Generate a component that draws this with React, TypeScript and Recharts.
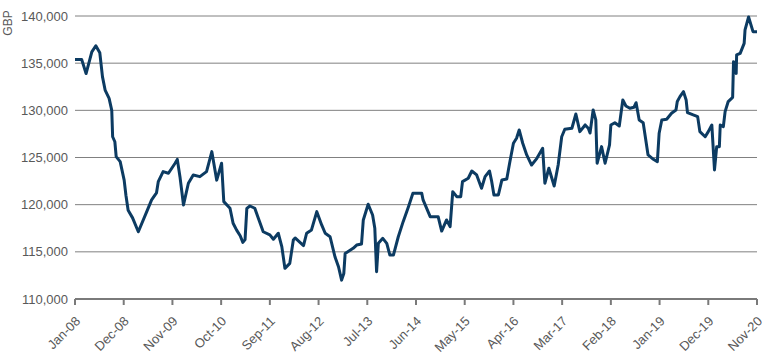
import React from 'react';
import { LineChart, Line, XAxis, YAxis, CartesianGrid } from 'recharts';

// months since Jan-2008 (fractional) for each observation
const monthOffsets = [
  0, 1.5, 2.5, 3.8, 4.7, 5.6, 6.2, 6.8, 7.7, 8.3, 8.5, 9.0, 9.3, 10.2, 11.1, 11.5, 12.0, 13.0, 14.3, 16.2,
  17.3, 18.4, 18.8, 19.9, 21.1, 22.6, 23.1, 23.7, 24.5, 25.6, 26.7, 28.2, 29.7, 30.9, 32.0, 33.1, 33.6, 35.0, 35.7, 36.5,
  37.3, 37.9, 38.4, 38.8, 39.5, 40.6, 41.4, 42.5, 44.0, 44.8, 45.9, 46.7, 47.4, 48.5, 49.3, 49.7, 51.6, 52.3, 53.4, 54.6,
  55.7, 56.5, 57.6, 58.7, 59.5, 60.2, 60.7, 61.0, 62.8, 63.6, 64.7, 65.1, 66.2, 67.2, 67.7, 68.1, 68.5, 69.5, 70.4, 71.1,
  71.9, 73.0, 74.1, 75.3, 76.3, 78.3, 78.6, 80.2, 82.0, 82.8, 83.9, 84.7, 85.3, 86.2, 87.1, 87.5, 88.8, 89.6, 90.7, 91.8,
  92.6, 93.6, 94.1, 94.6, 95.6, 96.4, 97.5, 98.2, 99.0, 99.7, 100.3, 101.1, 102.0, 103.1, 104.3, 105.6, 106.1, 107.0, 108.2, 109.1,
  109.9, 110.6, 112.2, 113.1, 114.0, 115.2, 115.9, 116.3, 117.0, 117.6, 117.9, 118.9, 119.7, 120.7, 121.0, 121.9, 122.9, 123.7, 124.4, 125.3,
  126.2, 126.7, 127.4, 128.3, 129.4, 130.6, 131.5, 131.9, 132.5, 133.6, 134.7, 135.7, 136.0, 136.6, 137.4, 138.0, 138.3, 139.6, 140.6, 141.1,
  142.3, 143.0, 143.8, 144.4, 144.9, 145.5, 145.7, 146.4, 146.8, 147.5, 148.5, 148.7, 149.3, 149.4, 150.2, 151.1, 151.3, 152.1, 153.1, 154.0,
];

// portfolio value in GBP
const values = [
  135400, 135400, 133900, 136200, 136850, 136100, 133570, 132150, 131270, 130000, 127200, 126670, 125100, 124560, 122600, 121000, 119400, 118600, 117130, 119260,
  120500, 121240, 122440, 123500, 123330, 124390, 124800, 122970, 119970, 122270, 123150, 122970, 123500, 125620, 122600, 124390, 120320, 119620, 118030, 117300,
  116700, 116000, 116300, 119600, 119860, 119620, 118560, 117130, 116800, 116330, 116970, 115550, 113250, 113780, 116260, 116470, 115660, 116970, 117320, 119260,
  117850, 116970, 116600, 114480, 113420, 112000, 112710, 114830, 115370, 115720, 115830, 118380, 120040, 118900, 117490, 112900, 115900, 116430, 115900, 114660,
  114660, 116600, 118200, 119790, 121200, 121200, 120500, 118730, 118730, 117200, 118380, 117670, 121380, 120850, 120850, 122440, 122800, 123570, 123150, 121740,
  122970, 123570, 122440, 121030, 121030, 122620, 122730, 124560, 126510, 127040, 127920, 126510, 125270, 124200, 124910, 125970, 122270, 123860, 121980, 124200,
  127200, 127990, 128100, 129610, 127740, 128450, 128100, 127600, 130040, 128980, 124390, 126150, 124390, 126330, 128450, 128690, 128340, 131100, 130460, 130220,
  130320, 130810, 128980, 128690, 125270, 124810, 124560, 127570, 128980, 129050, 129690, 130040, 130930, 131450, 131980, 131100, 129760, 129510, 129330, 127740,
  127200, 127740, 128450, 123680, 126150, 126150, 128450, 128270, 129860, 130930, 131380, 135160, 133920, 135870, 136040, 137100, 138520, 139900, 138340, 138340,
];

const tickMonths = [0, 11, 22, 33, 44, 55, 66, 77, 88, 99, 110, 121, 132, 143, 154];
const tickLabels = [
  'Jan-08', 'Dec-08', 'Nov-09', 'Oct-10', 'Sep-11', 'Aug-12', 'Jul-13', 'Jun-14',
  'May-15', 'Apr-16', 'Mar-17', 'Feb-18', 'Jan-19', 'Dec-19', 'Nov-20',
];
const yTicks = [110000, 115000, 120000, 125000, 130000, 135000, 140000];
const unitLabel = 'GBP';

const data = monthOffsets.map((t, i) => ({ t, v: values[i] }));

const FONT = '"Liberation Sans", Arial, Helvetica, sans-serif';
const TEXT = '#595959';

const XTick = (props: any) => {
  const { x, y, payload } = props;
  const idx = tickMonths.indexOf(payload.value);
  const label = idx >= 0 ? tickLabels[idx] : '';
  return (
    <g transform={`translate(${x + 6},${y + 15})`}>
      <text x={0} y={0} textAnchor="end" transform="rotate(-45)" fill={TEXT} fontSize={13} fontFamily={FONT}>
        {label}
      </text>
    </g>
  );
};

const UnitLabel = () => (
  <text
    transform="translate(12,23) rotate(-90)"
    textAnchor="middle"
    fill={TEXT}
    fontSize={12}
    fontFamily={FONT}
  >
    {unitLabel}
  </text>
);

export default function App() {
  return (
    <div style={{ position: 'absolute', left: 0, top: 0, width: 770, height: 357, background: '#fff' }}>
      <LineChart width={770} height={357} data={data} margin={{ top: 16, right: 13, bottom: 0, left: 0 }}>
        <CartesianGrid vertical={false} stroke="#808080" strokeWidth={1} />
        <XAxis
          type="number"
          dataKey="t"
          domain={[0, 154]}
          ticks={tickMonths}
          interval={0}
          axisLine={{ stroke: '#7a7a7a', strokeWidth: 2 }}
          tickLine={{ stroke: '#7a7a7a', strokeWidth: 2 }}
          tickSize={6}
          tick={<XTick />}
          height={58}
        />
        <YAxis
          type="number"
          domain={[110000, 140000]}
          ticks={yTicks}
          interval={0}
          width={75}
          axisLine={false}
          tickLine={false}
          tickSize={0}
          tickMargin={7}
          tickFormatter={(v: number) => v.toLocaleString('en-US')}
          tick={{ fill: TEXT, fontSize: 13, fontFamily: FONT }}
          label={<UnitLabel />}
        />
        <Line
          type="linear"
          dataKey="v"
          stroke="#0c3b62"
          strokeWidth={3}
          dot={false}
          isAnimationActive={false}
          strokeLinejoin="round"
        />
      </LineChart>
    </div>
  );
}
